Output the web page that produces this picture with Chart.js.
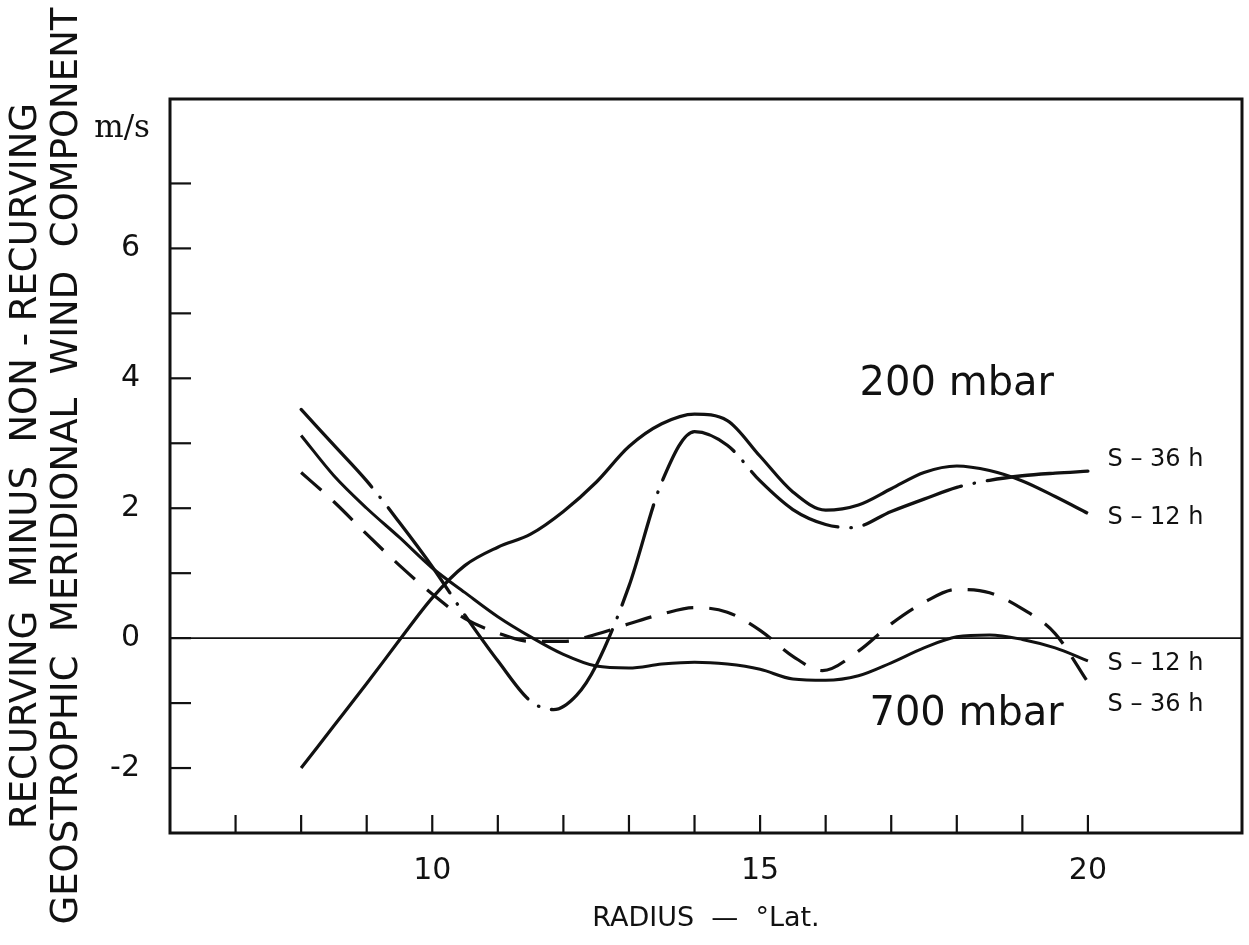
<!DOCTYPE html>
<html>
<head>
<meta charset="utf-8">
<script src="https://cdn.jsdelivr.net/npm/chart.js@4.4.0/dist/chart.umd.min.js"></script>
<style>
html,body{margin:0;padding:0;background:#fff;}
canvas{display:block;}
</style>
</head>
<body>
<canvas id="c" width="1249" height="945"></canvas>
<script>
// ---- data (radius in deg lat, value in m/s) ----
const radiusGrid = [8, 8.5, 9, 9.5, 10, 10.5, 11, 11.5, 12, 12.5, 13, 13.5, 14, 14.5, 15, 15.5, 16, 16.5, 17, 17.5, 18, 18.5, 19, 19.5, 20];

// 200 mbar, S-12h (solid)
const mb200S12 = [-2.0, -1.35, -0.7, -0.03, 0.62, 1.12, 1.4, 1.6, 1.95, 2.4, 2.95, 3.3, 3.45, 3.35, 2.8, 2.25, 1.97, 2.05, 2.3, 2.55, 2.65, 2.58, 2.42, 2.18, 1.92];

// 200 mbar, S-36h (dash-dot)
const mb200S36x = [8, 8.5, 9, 9.5, 10, 10.5, 11, 11.5, 11.85, 12.2, 12.5, 13, 13.5, 14, 14.5, 15, 15.5, 16, 16.4, 17, 17.5, 18, 18.5, 19, 19.5, 20];
const mb200S36 = [3.52, 2.97, 2.42, 1.78, 1.1, 0.35, -0.35, -0.97, -1.1, -0.88, -0.42, 0.8, 2.4, 3.18, 2.97, 2.42, 1.98, 1.75, 1.7, 1.95, 2.14, 2.32, 2.43, 2.5, 2.54, 2.57];

// 700 mbar, S-12h (solid)
const mb700S12 = [3.12, 2.5, 2.0, 1.55, 1.08, 0.7, 0.33, 0.02, -0.25, -0.43, -0.46, -0.4, -0.37, -0.4, -0.48, -0.63, -0.65, -0.58, -0.38, -0.15, 0.02, 0.05, -0.02, -0.15, -0.35];

// 700 mbar, S-36h (dashed)
const mb700S36x = [8, 8.5, 9, 9.5, 10, 10.5, 11, 11.5, 12, 12.5, 13, 13.5, 14, 14.5, 15, 15.5, 15.95, 16.5, 17, 17.5, 18, 18.5, 19, 19.5, 20];
const mb700S36 = [2.55, 2.1, 1.6, 1.12, 0.68, 0.3, 0.08, -0.05, -0.05, 0.06, 0.22, 0.37, 0.47, 0.4, 0.12, -0.28, -0.5, -0.2, 0.22, 0.55, 0.75, 0.7, 0.45, 0.07, -0.68];

// zero reference line
const zeroLineX = [6, 22.35];
const zeroLineY = [0, 0];

// axis ticks and labels
const xTickMarks = [7, 8, 9, 10, 11, 12, 13, 14, 15, 16, 17, 18, 19, 20];
const xTickLabels = [10, 15, 20];
const yTickMarks = [-2, -1, 0, 1, 2, 3, 4, 5, 6, 7];
const yTickLabels = [-2, 0, 2, 4, 6];

const yTitleLines = ['RECURVING  MINUS  NON - RECURVING', 'GEOSTROPHIC  MERIDIONAL  WIND  COMPONENT'];
const xTitle = 'RADIUS  —  °Lat.';
const unitLabel = 'm/s';

// in-plot text labels
const noteTexts = ['200 mbar', '700 mbar', 'S – 36 h', 'S – 12 h', 'S – 12 h', 'S – 36 h'];
const noteX = [18.0, 18.15, 20.3, 20.3, 20.3, 20.3];
const noteY = [3.9, -1.18, 2.75, 1.86, -0.4, -1.02];

// ---- chart ----
const pts = (xs, ys) => xs.map((v, i) => ({x: v, y: ys[i]}));
const INK = '#111';
Chart.defaults.color = INK;
Chart.defaults.font.family = "'DejaVu Sans', sans-serif";

const framePlugin = {
  id: 'frame',
  afterDraw(chart) {
    const {ctx, chartArea: a, scales: {x, y}} = chart;
    ctx.save();
    ctx.strokeStyle = INK;
    ctx.lineWidth = 3;
    ctx.strokeRect(a.left, a.top, a.right - a.left, a.bottom - a.top);
    ctx.lineWidth = 2.2;
    yTickMarks.forEach(v => {
      const p = y.getPixelForValue(v);
      ctx.beginPath(); ctx.moveTo(a.left, p); ctx.lineTo(a.left + 21, p); ctx.stroke();
    });
    xTickMarks.forEach(v => {
      const p = x.getPixelForValue(v);
      ctx.beginPath(); ctx.moveTo(p, a.bottom); ctx.lineTo(p, a.bottom - 18); ctx.stroke();
    });
    ctx.fillStyle = INK;
    ctx.textBaseline = 'middle';
    noteTexts.forEach((t, i) => {
      const big = i < 2;
      ctx.font = big ? "40px 'DejaVu Sans'" : "24px 'DejaVu Sans'";
      ctx.textAlign = big ? 'center' : 'left';
      ctx.fillText(t, x.getPixelForValue(noteX[i]), y.getPixelForValue(noteY[i]));
    });
    ctx.font = "31px 'DejaVu Serif'";
    ctx.textAlign = 'right';
    ctx.fillText(unitLabel, a.left - 20, y.getPixelForValue(7.84));
    ctx.restore();
  }
};

new Chart(document.getElementById('c'), {
  type: 'line',
  data: {
    datasets: [
      {data: pts(zeroLineX, zeroLineY), borderColor: INK, borderWidth: 1.6},
      {data: pts(radiusGrid, mb200S12), borderColor: INK, borderWidth: 3.2, cubicInterpolationMode: 'monotone'},
      {data: pts(mb200S36x, mb200S36), borderColor: INK, borderWidth: 3.3, borderDash: [105, 13, 0.5, 13], borderCapStyle: 'round', cubicInterpolationMode: 'monotone'},
      {data: pts(radiusGrid, mb700S12), borderColor: INK, borderWidth: 3, cubicInterpolationMode: 'monotone'},
      {data: pts(mb700S36x, mb700S36), borderColor: INK, borderWidth: 3.2, borderDash: [27, 16], cubicInterpolationMode: 'monotone'}
    ]
  },
  options: {
    responsive: false,
    animation: false,
    events: [],
    layout: {padding: {top: 99, right: 7, left: 0, bottom: 0}},
    elements: {point: {radius: 0}},
    plugins: {legend: {display: false}, tooltip: {enabled: false}},
    scales: {
      x: {
        type: 'linear', min: 6, max: 22.35,
        grid: {display: false, drawTicks: false, tickLength: 0},
        border: {display: false},
        ticks: {
          stepSize: 1, autoSkip: false, maxRotation: 0, padding: 20,
          font: {size: 30},
          callback: v => xTickLabels.includes(v) ? String(v) : ''
        },
        title: {display: true, text: xTitle, font: {size: 27}, padding: {top: 0, bottom: 10}},
        afterFit: s => { s.height = 112; s.paddingLeft = 0; s.paddingRight = 0; }
      },
      y: {
        type: 'linear', min: -3, max: 8.3,
        grid: {display: false, drawTicks: false, tickLength: 0},
        border: {display: false},
        ticks: {
          stepSize: 1, autoSkip: false, padding: 30,
          font: {size: 30},
          callback: v => yTickLabels.includes(v) ? String(v) : ''
        },
        title: {display: true, text: yTitleLines, font: {size: 37, lineHeight: 1.13}, padding: {top: 5, bottom: 0}},
        afterFit: s => { s.width = 170; s.paddingTop = 0; s.paddingBottom = 0; }
      }
    }
  },
  plugins: [framePlugin]
});
</script>
</body>
</html>
